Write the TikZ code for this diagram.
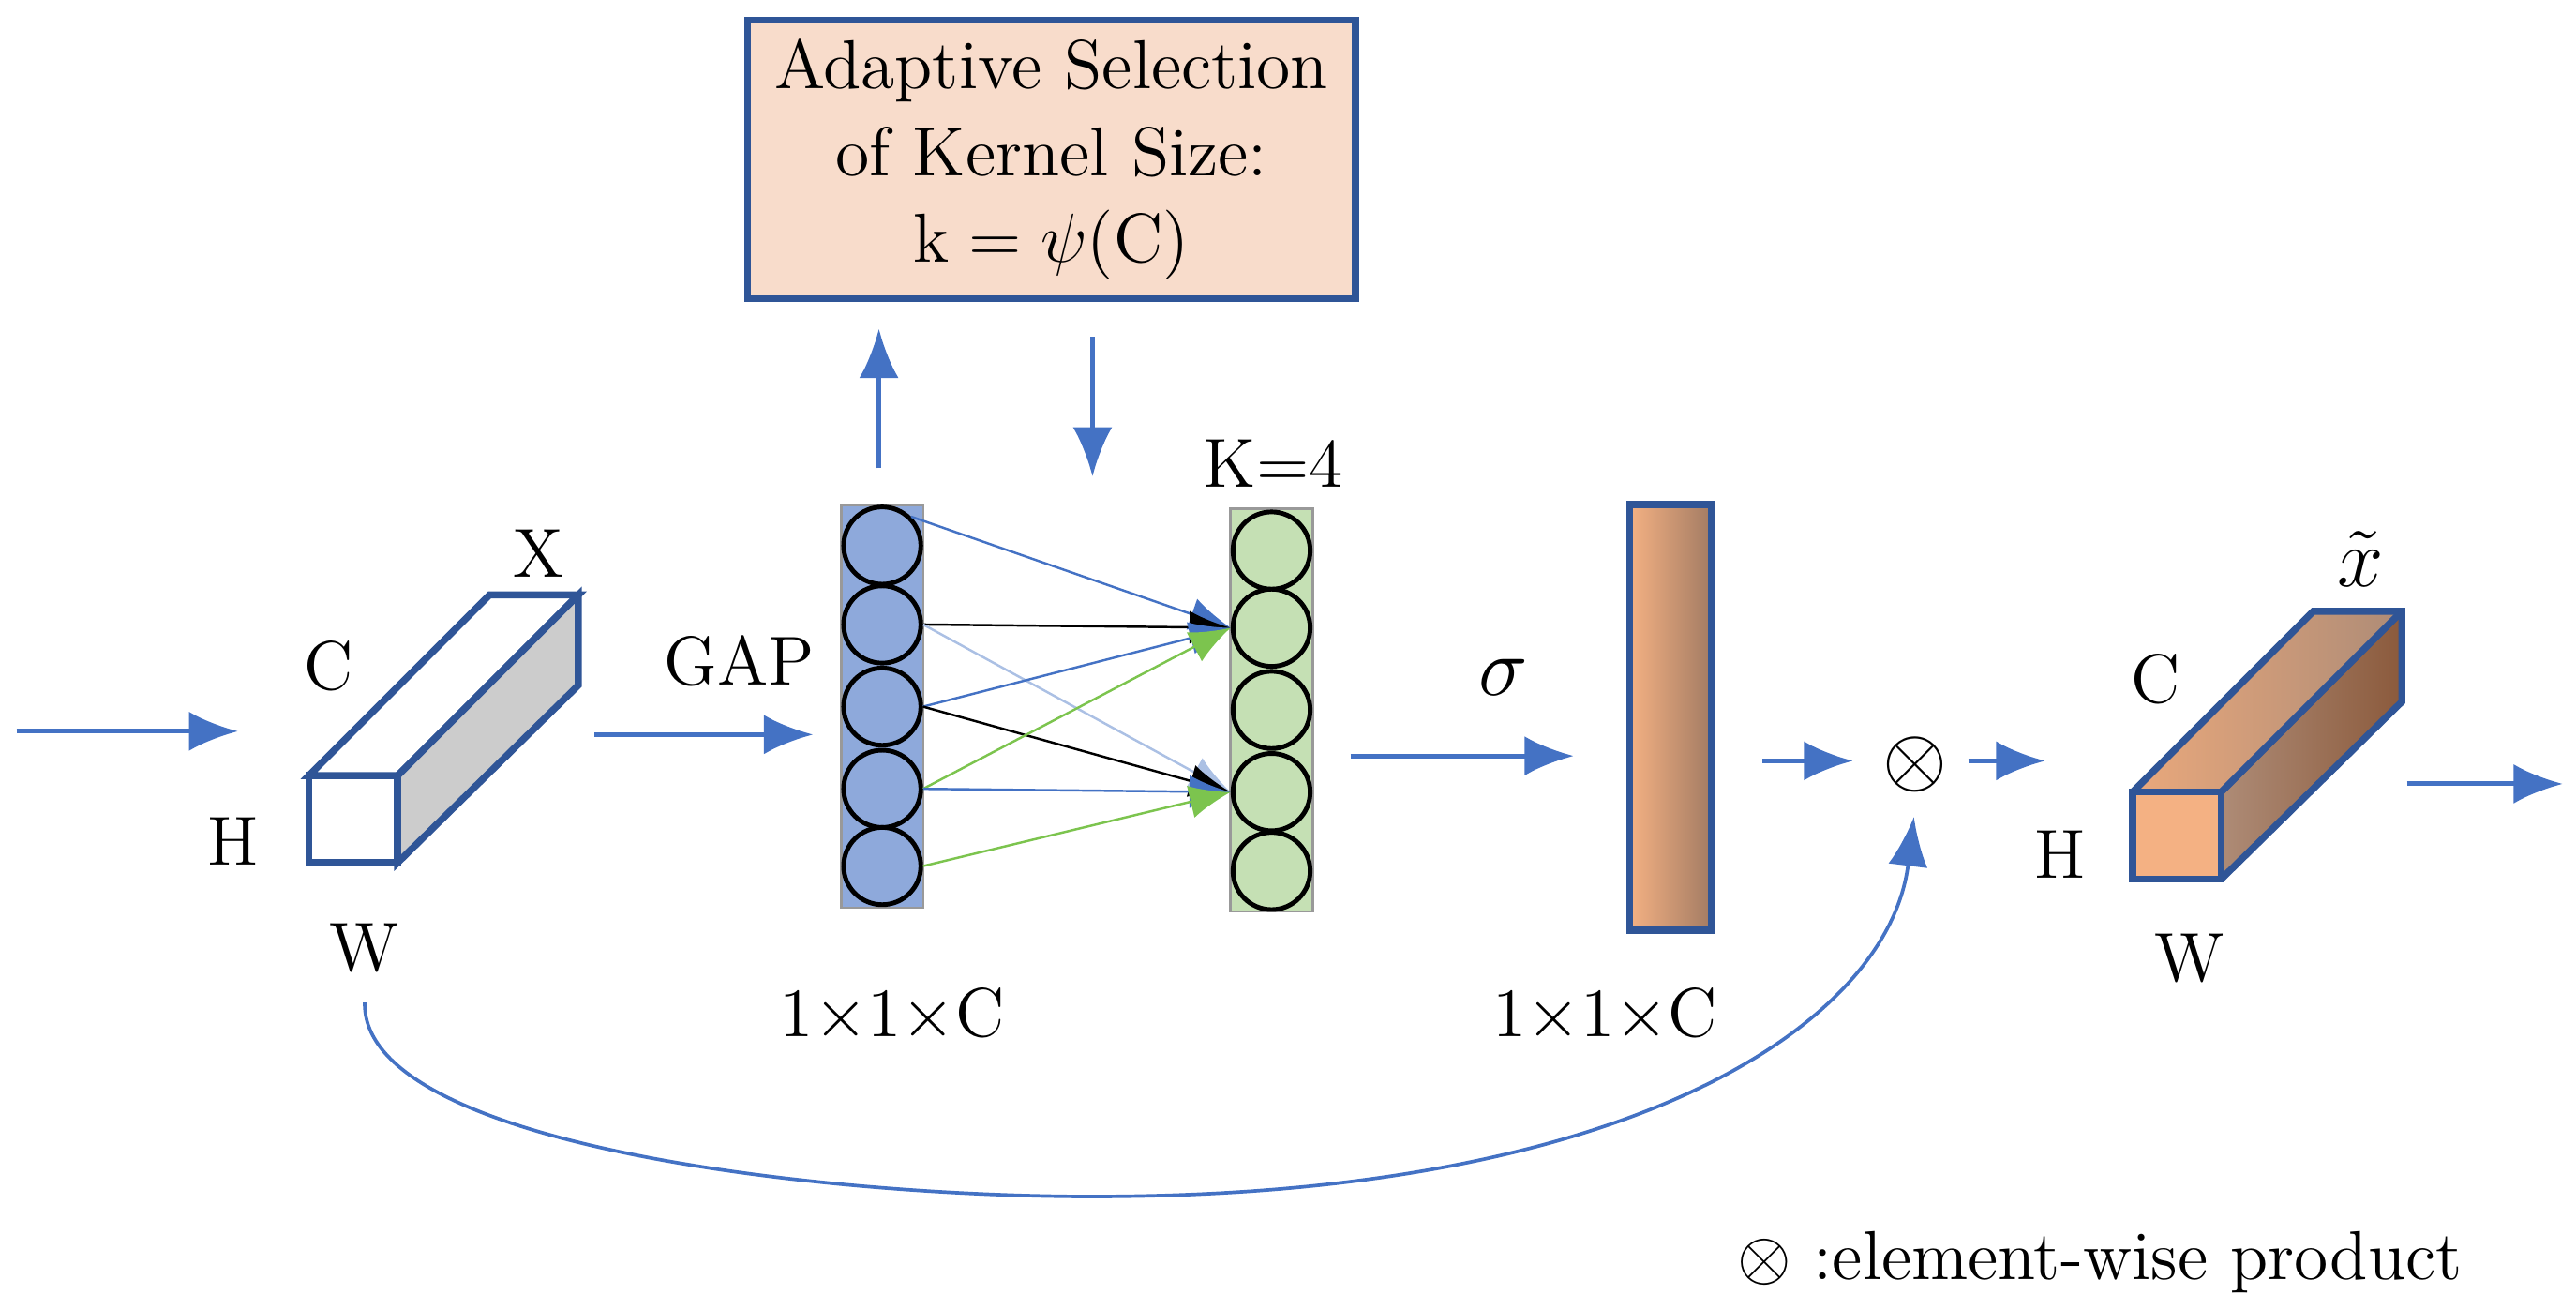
\documentclass[tikz,border=0pt]{standalone}
\usepackage{amsmath}
\usepackage{amssymb}
\usepackage{xcolor}
\usepackage{tikz}
\usetikzlibrary{arrows.meta}
\definecolor{eblue}{HTML}{4472C4}
\definecolor{edge}{HTML}{2F5597}
\definecolor{peach}{HTML}{F8DCCB}
\definecolor{lblue}{HTML}{8EA9DB}
\definecolor{lgreen}{HTML}{C5E0B4}
\definecolor{gline}{HTML}{7CC44E}
\definecolor{orl}{HTML}{F4B183}
\definecolor{ord}{HTML}{8B5A3C}
\begin{document}
\begin{tikzpicture}[x=0.1mm,y=-0.1mm,
    flow/.style={draw=eblue,thick,-{Latex[length=3mm,width=2.4mm]}},
    lbl/.style={font=\fontsize{12}{15}\selectfont},
    unit/.style={circle,draw=black,thick,minimum size=4.7mm,inner sep=0pt}]
\useasboundingbox (0,0) rectangle (1568,797);

\node[draw=edge,very thick,fill=peach,minimum width=37mm,minimum height=16.5mm,align=center,lbl] (asel) at (640,97)
  {Adaptive Selection\\of Kernel Size:\\$\mathrm{k}=\psi(\mathrm{C})$};

% input cuboid
\draw[edge,very thick,fill=white] (188,472) rectangle (242,525);
\draw[edge,very thick,fill=white] (188,472) -- (242,472) -- (352,362) -- (298,362) -- cycle;
\draw[edge,very thick,fill=black!20] (242,472) -- (352,362) -- (352,417) -- (242,525) -- cycle;
\node[lbl] (lX) at (328,337) {X};
\node[lbl] (lC) at (200,405) {C};
\node[lbl] (lH) at (142,512) {H};
\node[lbl] (lW) at (222,577) {W};

% columns
\node[draw=black!40,fill=lblue,minimum width=5mm,minimum height=24.5mm,inner sep=0pt] (bcol) at (537,430) {};
\node[draw=black!40,fill=lgreen,minimum width=5mm,minimum height=24.5mm,inner sep=0pt] (gcol) at (774,432) {};
\foreach \i/\y in {1/332,2/380,3/430,4/480,5/527}
  \node[unit,fill=lblue] (b\i) at (537,\y) {};
\foreach \i/\y in {1/335,2/382,3/432,4/482,5/530}
  \node[unit,fill=lgreen] (g\i) at (774,\y) {};
\node[lbl] (kfour) at (775,282) {K=4};
\node[lbl] (gap) at (450,402) {GAP};
\node[lbl] (s1) at (543,618) {1$\times$1$\times$C};

\begin{scope}[-{Latex[length=2.5mm,width=2mm]}]
  \draw[eblue] (b1.north east) -- (g2.west);
  \draw[black] (b2.east) -- (g2.west);
  \draw[eblue!45] (b2.east) -- (g4.west);
  \draw[eblue] (b3.east) -- (g2.west);
  \draw[black] (b3.east) -- (g4.west);
  \draw[gline] (b4.east) -- (g2.west);
  \draw[eblue] (b4.east) -- (g4.west);
  \draw[gline] (b5.east) -- (g4.west);
\end{scope}

% sigma bar
\shade[left color=orl,right color=ord!80] (992,307) rectangle (1042,566);
\draw[edge,very thick] (992,307) rectangle (1042,566);
\node[lbl] (sig) at (915,412) {\Large$\sigma$};
\node[lbl] (s2) at (977,618) {1$\times$1$\times$C};

\node[font=\Large] (prod) at (1166,465) {$\otimes$};

% output cuboid
\fill[orl] (1298,482) rectangle (1352,535);
\shade[left color=orl!90!ord,right color=ord!70] (1298,482) -- (1352,482) -- (1462,372) -- (1408,372) -- cycle;
\shade[left color=ord!70,right color=ord] (1352,482) -- (1462,372) -- (1462,427) -- (1352,535) -- cycle;
\draw[edge,very thick] (1298,482) rectangle (1352,535);
\draw[edge,very thick] (1298,482) -- (1408,372) -- (1462,372) -- (1462,427) -- (1352,535);
\draw[edge,very thick] (1352,482) -- (1462,372);
\node[lbl] (oX) at (1437,340) {\Large$\tilde{x}$};
\node[lbl] (oC) at (1312,413) {C};
\node[lbl] (oH) at (1254,520) {H};
\node[lbl] (oW) at (1333,583) {W};

\node[lbl,anchor=west] (legend) at (1045,768) {$\otimes$ :element-wise product};

% flow arrows
\coordinate (in0) at (10,445);  \coordinate (in1) at (145,445);
\coordinate (gp0) at (362,447); \coordinate (gp1) at (495,447);
\coordinate (up0) at (535,285); \coordinate (up1) at (535,200);
\coordinate (dn0) at (665,205); \coordinate (dn1) at (665,290);
\coordinate (sg0) at (822,460); \coordinate (sg1) at (958,460);
\coordinate (m0) at (1073,463); \coordinate (m1) at (1128,463);
\coordinate (m2) at (1198,463); \coordinate (m3) at (1245,463);
\coordinate (out0) at (1465,477); \coordinate (out1) at (1560,477);
\coordinate (res0) at (222,610); \coordinate (res1) at (1165,497);
\draw[flow] (in0) -- (in1);
\draw[flow] (gp0) -- (gp1);
\draw[flow] (up0) -- (up1);
\draw[flow] (dn0) -- (dn1);
\draw[flow] (sg0) -- (sg1);
\draw[flow] (m0) -- (m1);
\draw[flow] (m2) -- (m3);
\draw[flow] (out0) -- (out1);
\draw[flow,semithick] (res0) .. controls (220,700) and (520,730) .. (680,728)
  .. controls (1000,725) and (1150,620) .. (res1);
\end{tikzpicture}
\end{document}
